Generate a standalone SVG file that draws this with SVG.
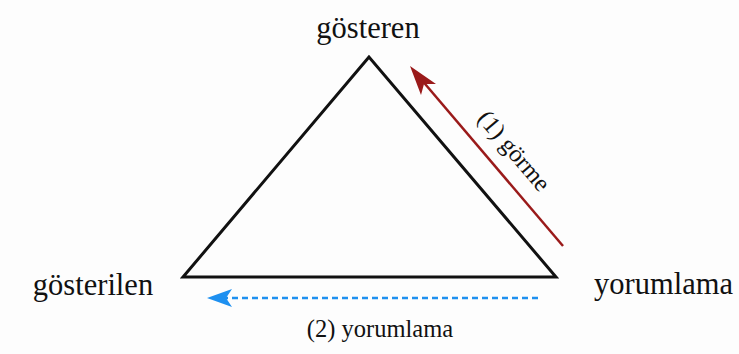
<svg xmlns="http://www.w3.org/2000/svg" width="739" height="354" viewBox="0 0 739 354">
<style>
.t{font-family:"Liberation Serif","Times New Roman",serif;fill:#111;}
.big{font-size:30.5px;}
.small{font-size:24.5px;}
</style>
<rect width="739" height="354" fill="#fdfdfd"/>
<g id="triangle">
<polygon points="369,57 183,277 556,277" fill="none" stroke="#111" stroke-width="3" stroke-linejoin="miter"/>
</g>
<g id="node-gosteren"><text class="t big" x="368" y="38" text-anchor="middle">gösteren</text></g>
<g id="node-gosterilen"><text class="t big" x="93" y="295" text-anchor="middle">gösterilen</text></g>
<g id="node-yorumlama"><text class="t big" x="663.5" y="294" text-anchor="middle">yorumlama</text></g>
<g id="connectors">
<line x1="563" y1="246" x2="420" y2="78" stroke="#9a1a1a" stroke-width="2.5"/>
<path d="M410,66 L436,84 L424,84 L421,95 Z" fill="#9a1a1a"/>
<line x1="538" y1="298" x2="226" y2="298" stroke="#1e90f0" stroke-width="2.5" stroke-dasharray="6,4"/>
<path d="M207,298 L232,289 L226,298 L232,307 Z" fill="#1e90f0"/>
</g>
<g id="label-gorme"><text class="t small" x="508" y="156" text-anchor="middle" transform="rotate(49.5 508 156)">(1) görme</text></g>
<g id="label-yorumlama2"><text class="t small" x="380" y="337" text-anchor="middle">(2) yorumlama</text></g>
</svg>
